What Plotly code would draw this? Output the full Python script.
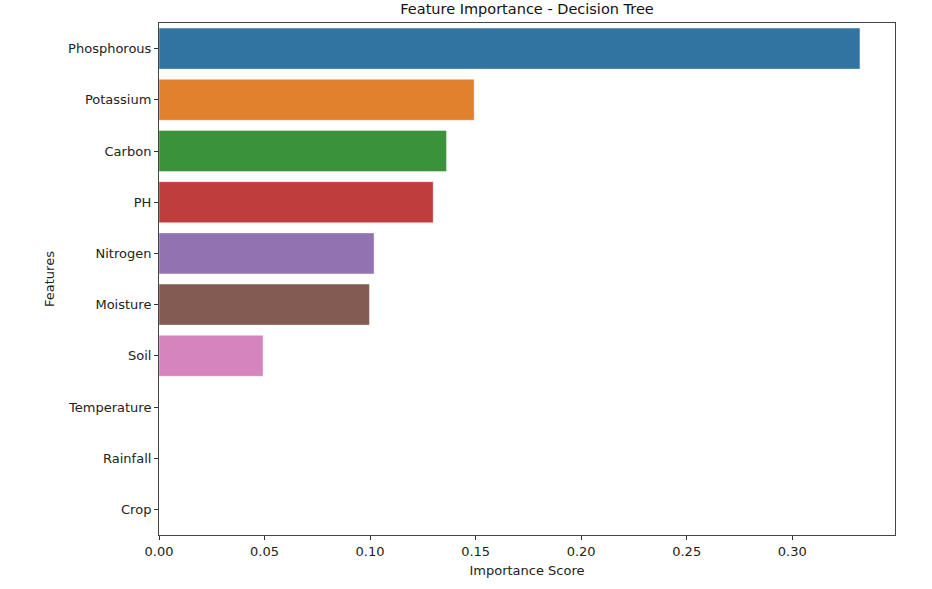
import plotly.graph_objects as go

features = ["Phosphorous", "Potassium", "Carbon", "PH", "Nitrogen", "Moisture",
            "Soil", "Temperature", "Rainfall", "Crop"]
importance = [0.3321, 0.1493, 0.1362, 0.1299, 0.1019, 0.0997, 0.0493, 0.0, 0.0, 0.0]
colors = ["#3274a1", "#e1812c", "#3a923a", "#c03d3e", "#9372b2", "#845b53",
          "#d684bd", "#7f7f7f", "#a9aa35", "#2eb0c0"]
x_ticks = [0.0, 0.05, 0.10, 0.15, 0.20, 0.25, 0.30]

fig = go.Figure(go.Bar(
    x=importance, y=features, orientation="h", width=0.8,
    marker=dict(color=colors, line=dict(color="rgba(255,255,255,0.5)", width=0.8)),
))

font = dict(family="DejaVu Sans", size=13, color="#222222")
fig.update_layout(
    width=932, height=589,
    margin=dict(l=159, r=37, t=23, b=54),
    paper_bgcolor="white", plot_bgcolor="white",
    font=font,
    showlegend=False,
    bargap=0.2,
    title=dict(text="Feature Importance - Decision Tree", x=0.5655, xanchor="center",
               y=0.993, yanchor="top", yref="container",
               font=dict(family="DejaVu Sans", size=14.5, color="#111111")),
)
fig.update_xaxes(
    range=[0, 0.3487], tickvals=x_ticks, ticktext=[f"{v:.2f}" for v in x_ticks],
    showgrid=False, zeroline=False, showline=True, linecolor="#444444", linewidth=1,
    mirror=True, ticks="outside", ticklen=4, tickcolor="#333333",
    title=dict(text="Importance Score", standoff=8, font=font),
)
fig.update_yaxes(
    categoryorder="array", categoryarray=features, range=[9.5, -0.5],
    showgrid=False, zeroline=False, showline=True, linecolor="#444444", linewidth=1,
    mirror=True, ticks="outside", ticklen=4, tickcolor="#333333",
    title=dict(text="Features", standoff=10, font=font),
)

fig.write_html("out.html")
